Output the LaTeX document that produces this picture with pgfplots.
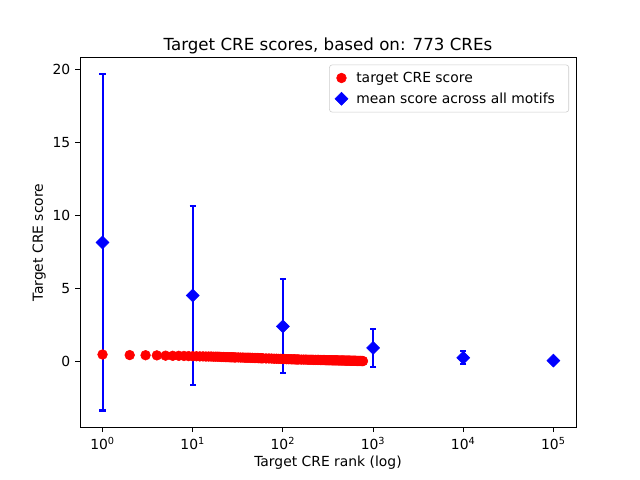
\documentclass[border=0pt]{standalone}
\usepackage{fontspec}
\setmainfont{DejaVu Sans}
\usepackage{pgfplots}
\pgfplotsset{compat=1.18}
\usepackage{pgfplotstable}

\definecolor{legendedge}{rgb}{0.8,0.8,0.8}

% mean score across all motifs, with its spread
\pgfplotstableread{
x      y     e
1      8.14  11.53
10     4.50  6.17
100    2.38  3.22
1000   0.90  1.33
10000  0.22  0.45
100000 0.03  0.00
}\meantable

% target CRE score by rank (773 CREs, thinned where the marks overlap)
\pgfplotstableread{
r   s
1   0.45
2   0.41
3   0.40
4   0.39
5   0.37
6   0.36
7   0.36
8   0.35
9   0.34
10  0.33
11  0.33
12  0.32
13  0.32
14  0.31
15  0.31
16  0.31
17  0.30
18  0.30
19  0.30
20  0.29
21  0.28
22  0.28
23  0.27
24  0.27
25  0.27
26  0.26
27  0.26
28  0.26
29  0.25
30  0.25
32  0.25
34  0.24
36  0.24
38  0.23
40  0.23
42  0.23
44  0.22
46  0.22
48  0.21
50  0.21
52  0.21
54  0.20
56  0.20
58  0.19
60  0.19
65  0.18
70  0.18
75  0.17
80  0.16
85  0.16
90  0.15
95  0.15
100 0.14
105 0.14
110 0.13
115 0.13
120 0.13
125 0.12
130 0.12
135 0.12
140 0.11
145 0.11
150 0.11
160 0.10
170 0.10
180 0.10
190 0.09
200 0.09
210 0.09
220 0.08
230 0.08
240 0.08
250 0.08
260 0.07
270 0.07
280 0.07
290 0.07
300 0.06
310 0.06
320 0.06
330 0.06
340 0.06
350 0.05
360 0.05
370 0.05
380 0.05
390 0.05
400 0.05
415 0.04
430 0.04
445 0.04
460 0.04
475 0.04
490 0.03
505 0.03
520 0.03
535 0.03
550 0.03
565 0.02
580 0.02
595 0.02
610 0.02
625 0.02
640 0.02
655 0.01
670 0.01
685 0.01
700 0.01
715 0.01
730 0.01
745 0.00
760 0.00
773 0.00
}\scoretable

\begin{document}
\begin{tikzpicture}
\path[use as bounding box] (-57.6pt,-38.0pt) rectangle (403.2pt,307.6pt);
\begin{axis}[
  at={(0,0)}, anchor=south west,
  scale only axis,
  width=357.1pt, height=266.1pt,
  xmode=log,
  xmin=0.5623, xmax=177828,
  ymin=-4.54, ymax=20.82,
  log basis x=10,
  xtick={1,10,100,1000,10000,100000},
  xticklabels={10\textsuperscript{0},10\textsuperscript{1},10\textsuperscript{2},10\textsuperscript{3},10\textsuperscript{4},10\textsuperscript{5}},
  ytick={0,5,10,15,20},
  tick align=outside,
  tick pos=left,
  major tick length=3.5pt,
  minor tick length=2pt,
  every tick/.style={black, line width=0.6pt},
  axis line style={line width=0.6pt},
  tick label style={font=\fontsize{10}{12}\selectfont},
  /pgf/number format/assume math mode=true,
  title={Target CRE scores, based on: 773 CREs},
  title style={font=\fontsize{12}{14}\selectfont, yshift=-7pt},
  xlabel={Target CRE rank (log)},
  ylabel={Target CRE score},
  label style={font=\fontsize{10}{12}\selectfont},
  xlabel style={yshift=2pt},
  ylabel style={yshift=-2pt},
  legend style={at={(1,1)}, anchor=north east, xshift=-5pt, yshift=-5pt,
    draw=legendedge, rounded corners=2pt, font=\fontsize{10}{12}\selectfont,
    row sep=2pt, inner xsep=4pt, inner ysep=3pt,
    nodes={inner xsep=6pt}},
  legend image code/.code={%
    \draw[mark repeat=2, mark phase=2] plot coordinates {(0pt,0pt) (11pt,0pt) (22pt,0pt)};},
  legend cell align=left,
  reverse legend,
]
\addplot[only marks, blue, mark=square*, mark size=3.3pt,
  mark options={rotate=45, fill=blue, draw=blue},
  error bars/.cd, y dir=both, y explicit,
  error bar style={draw=blue, line width=1.5pt},
  error mark options={blue, rotate=90, mark size=2.2pt, line width=1.5pt}]
  table[x=x, y=y, y error=e]{\meantable};
\addlegendentry{mean score across all motifs}
\addplot[only marks, red, mark=*, mark size=3.5pt, mark options={fill=red, draw=red}]
  table[x=r, y=s]{\scoretable};
\addlegendentry{target CRE score}
\end{axis}
\end{tikzpicture}
\end{document}
